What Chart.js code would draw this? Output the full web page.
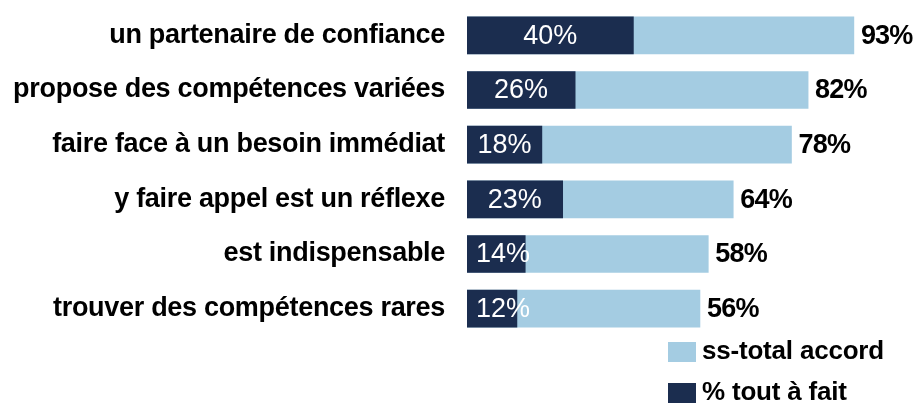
<!DOCTYPE html>
<html>
<head>
<meta charset="utf-8">
<script src="https://cdn.jsdelivr.net/npm/chart.js@4/dist/chart.umd.min.js"></script>
<style>
  html, body { margin: 0; padding: 0; background: #fff; }
  #wrap { position: relative; width: 918px; height: 403px; }
</style>
</head>
<body>
<div id="wrap"><canvas id="barChart"></canvas></div>
<script>
// ===== données =====
const categories = [
  "un partenaire de confiance",
  "propose des compétences variées",
  "faire face à un besoin immédiat",
  "y faire appel est un réflexe",
  "est indispensable",
  "trouver des compétences rares",
];
const toutAFait = [40, 26, 18, 23, 14, 12];
const totalAccord = [93, 82, 78, 64, 58, 56];
const seriesNames = ["% tout à fait", "ss-total accord"];

const DARK = "#1b2d4f";
const LIGHT = "#a4cce2";
const FONT = "'Liberation Sans', Arial, sans-serif";

// texte un peu serré comme dans l'original
const tightText = {
  id: "tightText",
  beforeDraw(chart) {
    chart.ctx.letterSpacing = "-0.3px";
  },
};

// étiquettes de valeurs (dedans pour foncé, après la barre pour le total)
const valueLabels = {
  id: "valueLabels",
  afterDatasetsDraw(chart) {
    const ctx = chart.ctx;
    ctx.save();
    ctx.textBaseline = "middle";
    // total à droite
    chart.getDatasetMeta(1).data.forEach((bar, i) => {
      ctx.font = "bold 27px " + FONT;
      ctx.letterSpacing = "-0.8px";
      ctx.fillStyle = "#000";
      ctx.textAlign = "left";
      ctx.fillText(totalAccord[i] + "%", bar.x + 7, bar.y + 1);
    });
    // tout à fait à l'intérieur
    chart.getDatasetMeta(0).data.forEach((bar, i) => {
      ctx.font = "27px " + FONT;
      ctx.letterSpacing = "0px";
      ctx.fillStyle = "#fff";
      ctx.textAlign = "center";
      const txt = toutAFait[i] + "%";
      const w = ctx.measureText(txt).width;
      const left = bar.base;
      const cx = Math.max((left + bar.x) / 2, left + 9 + w / 2);
      ctx.fillText(txt, cx, bar.y + 1);
    });
    ctx.restore();
  },
};

// légende en bas à droite
const customLegend = {
  id: "customLegend",
  afterDraw(chart) {
    const ctx = chart.ctx;
    const items = [
      { label: seriesNames[1], color: LIGHT },
      { label: seriesNames[0], color: DARK },
    ];
    ctx.save();
    ctx.font = "bold 26px " + FONT;
    ctx.letterSpacing = "-0.2px";
    ctx.textBaseline = "middle";
    ctx.textAlign = "left";
    items.forEach((it, i) => {
      const y = 342 + i * 41;
      ctx.fillStyle = it.color;
      ctx.fillRect(668, y, 28, 20);
      ctx.fillStyle = "#000";
      ctx.fillText(it.label, 702, y + 10);
    });
    ctx.restore();
  },
};

new Chart(document.getElementById("barChart"), {
  type: "bar",
  data: {
    labels: categories,
    datasets: [
      {
        label: seriesNames[0],
        data: toutAFait,
        backgroundColor: DARK,
        grouped: false,
        barThickness: 37,
      },
      {
        label: seriesNames[1],
        data: totalAccord,
        backgroundColor: LIGHT,
        grouped: false,
        barThickness: 37,
      },
    ],
  },
  options: {
    indexAxis: "y",
    responsive: true,
    maintainAspectRatio: false,
    animation: false,
    layout: { padding: { top: 8, bottom: 67, left: 0, right: 35 } },
    plugins: {
      legend: { display: false },
      tooltip: { enabled: false },
    },
    scales: {
      x: {
        display: false,
        min: 0,
        max: 100,
      },
      y: {
        afterFit: (scale) => {
          scale.width = 467;
          scale.paddingTop = 0;
          scale.paddingBottom = 0;
        },
        grid: { display: false, drawTicks: false },
        border: { display: false },
        ticks: {
          color: "#000",
          padding: 22,
          font: { family: FONT, size: 27, weight: "bold" },
        },
      },
    },
  },
  plugins: [tightText, valueLabels, customLegend],
});
</script>
</body>
</html>
